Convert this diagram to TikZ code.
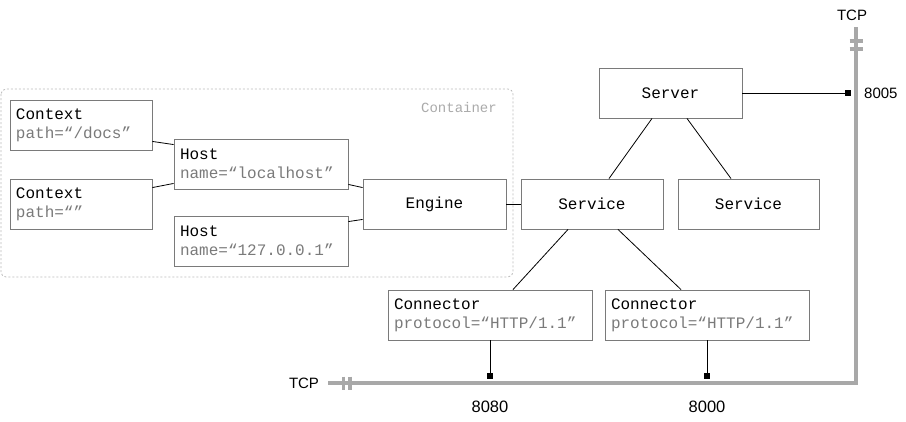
\documentclass[tikz,border=0pt]{standalone}
\usepackage{fontspec}
\setmainfont{Liberation Sans}
\newfontfamily\monof{Liberation Mono}
\usetikzlibrary{calc}
\definecolor{boxline}{HTML}{7A7A7A}
\definecolor{attr}{HTML}{7A7A7A}
\definecolor{bus}{HTML}{A8A8A8}
\definecolor{cont}{HTML}{BBBBBB}
\definecolor{contlabel}{HTML}{AAAAAA}
\begin{document}
\begin{tikzpicture}[x=1pt,y=-1pt,
  box/.style={draw=boxline, line width=0.9pt, minimum height=50pt, inner xsep=6pt, inner ysep=0pt,
    font=\monof\fontsize{16}{19}\selectfont},
  cbox/.style={box, minimum width=#1},
  wire/.style={draw=black, line width=0.8pt},
  port/.style={fill=black, minimum size=6pt, inner sep=0pt},
  busline/.style={draw=bus, line width=4pt, line join=miter},
  tick/.style={draw=bus, line width=3.5pt},
  num/.style={font=\fontsize{15}{18}\selectfont, inner sep=0pt},
  bignum/.style={font=\fontsize{16.5}{19}\selectfont, inner sep=0pt},
  container/.style={draw=cont, line width=0.8pt, dash pattern=on 2pt off 2pt, rounded corners=5pt}
]
\useasboundingbox (0,0) rectangle (906,421);

% container
\draw[container] (1,89) rectangle (513,277);
\node[anchor=east, inner sep=0pt, text=contlabel, font=\monof\fontsize{14}{16}\selectfont] (contlbl) at (497,107) {Container};

% boxes
\node[box, minimum width=142pt, text width=130pt, align=left] (ctx1) at (81,125) {Context\\\textcolor{attr}{path=“/docs”}};
\node[box, minimum width=142pt, text width=130pt, align=left] (ctx2) at (81,204) {Context\\\textcolor{attr}{path=“”}};
\node[box, minimum width=174pt, text width=162pt, align=left] (host1) at (261,164) {Host\\\textcolor{attr}{name=“localhost”}};
\node[box, minimum width=174pt, text width=162pt, align=left] (host2) at (261,241) {Host\\\textcolor{attr}{name=“127.0.0.1”}};
\node[cbox=143pt] (engine) at (434.5,204) {Engine};
\node[cbox=142pt] (service1) at (592,204) {Service};
\node[cbox=141pt] (service2) at (748.5,204) {Service};
\node[cbox=143pt] (server) at (670.5,93) {Server};
\node[box, minimum width=204pt, text width=192pt, align=left] (conn1) at (490,315) {Connector\\\textcolor{attr}{protocol=“HTTP/1.1”}};
\node[box, minimum width=204pt, text width=192pt, align=left] (conn2) at (707,315) {Connector\\\textcolor{attr}{protocol=“HTTP/1.1”}};

% tree connectors
\draw[wire] ([yshift=9pt]ctx1.south east) -- ([yshift=-6pt]host1.north west);
\draw[wire] ([yshift=-9pt]ctx2.north east) -- ([yshift=6pt]host1.south west);
\draw[wire] ([yshift=5pt]host1.south east) -- ([yshift=-9pt]engine.north west);
\draw[wire] ([yshift=-6pt]host2.north east) -- ([yshift=10pt]engine.south west);
\draw[wire] (engine.east) -- (service1.west);
\draw[wire] ([xshift=-18.5pt]server.south) -- ([xshift=17pt]service1.north);
\draw[wire] ([xshift=16.5pt]server.south) -- ([xshift=-17.5pt]service2.north);
\draw[wire] ([xshift=-24pt]service1.south) -- ([xshift=23pt]conn1.north);
\draw[wire] ([xshift=26pt]service1.south) -- ([xshift=-26pt]conn2.north);

% TCP bus
\coordinate (busL) at (328,383);
\coordinate (busC) at (856,383);
\coordinate (busT) at (856,27);
\draw[busline] (busL) -- (busC) -- (busT);
\draw[tick] (343.5,376.5) -- (343.5,389.5);
\draw[tick] (350,376.5) -- (350,389.5);
\draw[tick] (849.5,41) -- (862.5,41);
\draw[tick] (849.5,49) -- (862.5,49);

% ports
\node[port] (p8080) at (490,376) {};
\node[port] (p8000) at (707,376) {};
\node[port] (p8005) at (848,93) {};
\draw[wire] (conn1.south) -- (p8080);
\draw[wire] (conn2.south) -- (p8000);
\draw[wire] (server.east) -- (p8005);

% labels
\node[num] (tcpL) at (304,383) {TCP};
\node[num] (tcpT) at (852,15) {TCP};
\node[bignum] (l8080) at (490,407) {8080};
\node[bignum] (l8000) at (707,407) {8000};
\node[num, anchor=west] (l8005) at (864,93) {8005};
\end{tikzpicture}
\end{document}
